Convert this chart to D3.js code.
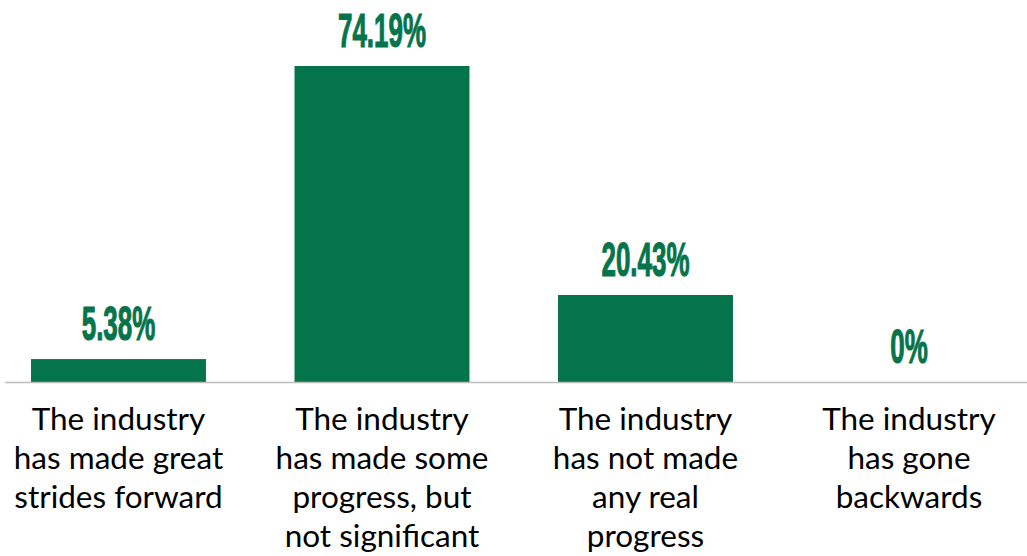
<!DOCTYPE html>
<html>
<head>
<meta charset="utf-8">
<script src="https://cdn.jsdelivr.net/npm/d3@7"></script>
<style>
  html, body { margin: 0; padding: 0; background: #fff; }
  svg { display: block; }
</style>
</head>
<body>
<svg id="chart" width="1027" height="556"></svg>
<script>
// Survey responses: how the industry has progressed
const categories = [
  "The industry has made great strides forward",
  "The industry has made some progress, but not significant",
  "The industry has not made any real progress",
  "The industry has gone backwards"
];
const categoryLines = [
  ["The industry", "has made great", "strides forward"],
  ["The industry", "has made some", "progress, but", "not significant"],
  ["The industry", "has not made", "any real", "progress"],
  ["The industry", "has gone", "backwards"]
];
const values = [5.38, 74.19, 20.43, 0];
const valueLabels = ["5.38%", "74.19%", "20.43%", "0%"];

const svg = d3.select("#chart");
const green = "#06744b";
const baseY = 382;

const x = d3.scaleBand()
  .domain(categories)
  .range([-13.25, 1040.75])
  .paddingInner(0.336)
  .paddingOuter(0.168);

const y = d3.scaleLinear()
  .domain([0, 74.19])
  .range([baseY, 66]);

// bars
svg.append("g").selectAll("rect")
  .data(values)
  .join("rect")
  .attr("x", (d, i) => x(categories[i]))
  .attr("y", d => y(d))
  .attr("width", x.bandwidth())
  .attr("height", d => baseY - y(d))
  .attr("fill", green);

// baseline
svg.append("line")
  .attr("x1", 5).attr("x2", 1027)
  .attr("y1", baseY + 0.5).attr("y2", baseY + 0.5)
  .attr("stroke", "#bdbdbd")
  .attr("stroke-width", 1.5);

// value labels (condensed bold)
svg.append("g").selectAll("text")
  .data(values)
  .join("text")
  .attr("transform", (d, i) => `translate(${x(categories[i]) + x.bandwidth() / 2},${y(d) - 19}) scale(0.53,1)`)
  .attr("text-anchor", "middle")
  .attr("font-family", "'Liberation Sans Narrow', 'Arial Narrow', sans-serif")
  .attr("font-weight", "bold")
  .attr("font-size", 49)
  .attr("fill", green)
  .attr("stroke", green)
  .attr("stroke-width", 1.2)
  .text((d, i) => valueLabels[i]);

// category labels
const cat = svg.append("g").selectAll("text")
  .data(categoryLines)
  .join("text")
  .attr("text-anchor", "middle")
  .attr("font-family", "Lato, 'Open Sans', sans-serif")
  .attr("font-size", 31.5)
  .attr("fill", "#000")
  .attr("transform", (d, i) => `translate(${x(categories[i]) + x.bandwidth() / 2},0)`);

cat.selectAll("tspan")
  .data(d => d)
  .join("tspan")
  .attr("x", 0)
  .attr("y", (d, j) => 430 + j * 39)
  .text(d => d);
</script>
</body>
</html>
